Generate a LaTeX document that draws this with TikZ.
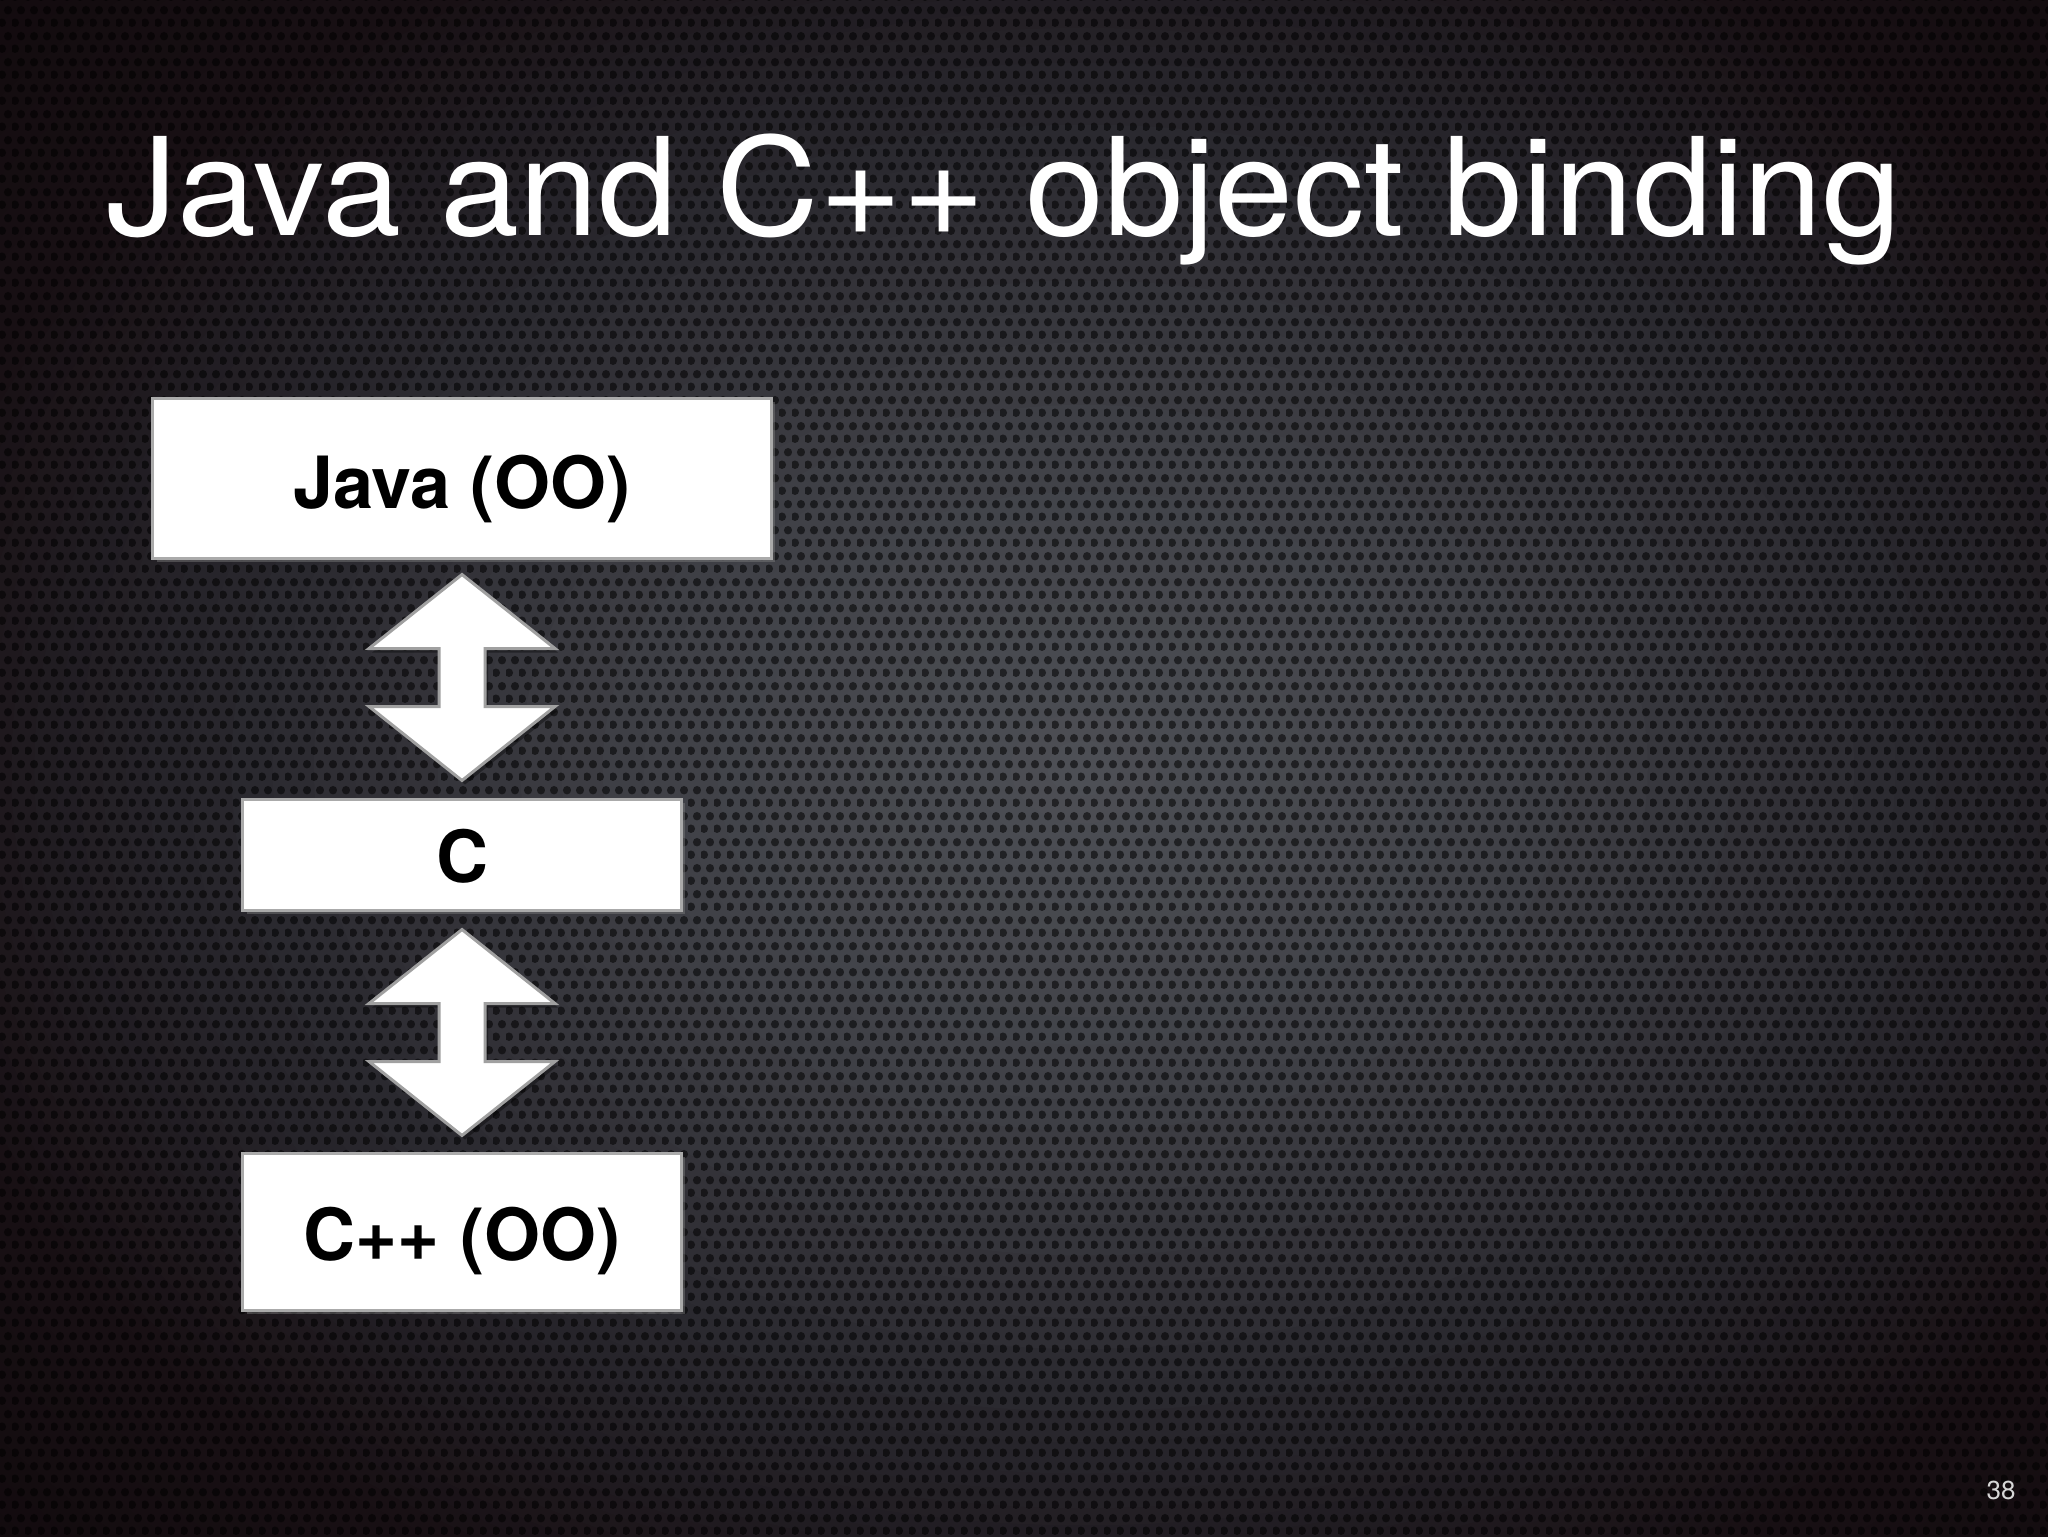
\documentclass[tikz,border=0pt]{standalone}
\usepackage{fontspec}
\setmainfont{TeX Gyre Heros}
\newfontfamily\slidetitlefont[FakeStretch=1.045]{TeX Gyre Heros}
\usetikzlibrary{calc,shadows,patterns}
\definecolor{bgA}{RGB}{78,80,86}
\definecolor{bgB}{RGB}{64,65,71}
\definecolor{bgC}{RGB}{38,36,42}
\definecolor{bgD}{RGB}{24,16,20}
\definecolor{bgE}{RGB}{16,9,12}
\definecolor{boxline}{RGB}{170,170,170}
\definecolor{arrowline}{RGB}{160,160,160}
\definecolor{pagenum}{RGB}{215,215,215}
\pgfdeclarepatternformonly{holes}{\pgfpoint{0bp}{0bp}}{\pgfpoint{6.5bp}{13bp}}{\pgfpoint{6.5bp}{13bp}}{%
  \pgfpathcircle{\pgfpoint{1.6bp}{3.25bp}}{2.2bp}%
  \pgfpathcircle{\pgfpoint{4.85bp}{9.75bp}}{2.2bp}%
  \pgfusepath{fill}}
\tikzset{
  box/.style={draw=boxline, line width=1.5bp, fill=white, inner sep=0pt,
    drop shadow={shadow xshift=2bp, shadow yshift=-2bp, opacity=.45}},
  boxtext/.style={font=\bfseries\fontsize{36bp}{40bp}\selectfont, text=black, inner sep=0pt, anchor=base},
  blockarrow/.style={draw=arrowline, line width=1.5bp, fill=white, line join=miter},
  titletext/.style={font=\slidetitlefont\fontsize{68bp}{76bp}\selectfont, text=white, inner sep=0pt, anchor=base west},
}
\newcommand\dblblock[2]{%
  \draw[blockarrow] (#1) -- ($(#1)+(93,74)$) -- ($(#1)+(23,74)$) -- ($(#2)+(23,-74)$)
    -- ($(#2)+(93,-74)$) -- (#2) -- ($(#2)+(-93,-74)$) -- ($(#2)+(-23,-74)$)
    -- ($(#1)+(-23,74)$) -- ($(#1)+(-93,74)$) -- cycle;}
\newcommand\dblblockshadow[2]{%
  \fill[black, opacity=.35] (#1) -- ($(#1)+(93,74)$) -- ($(#1)+(23,74)$) -- ($(#2)+(23,-74)$)
    -- ($(#2)+(93,-74)$) -- (#2) -- ($(#2)+(-93,-74)$) -- ($(#2)+(-23,-74)$)
    -- ($(#1)+(-23,74)$) -- ($(#1)+(-93,74)$) -- cycle;}
\begin{document}
\begin{tikzpicture}[x=0.5bp,y=-0.5bp]
  \useasboundingbox (0,0) rectangle (2048,1536);
  \begin{scope}
    \clip (0,0) rectangle (2048,1536);
    \fill[bgE] (0,0) rectangle (2048,1536);
    \foreach \ra/\rb/\ca/\cb in {1.45/1.1/bgE/bgD, 1.1/0.85/bgD/bgC, 0.85/0.4/bgC/bgB, 0.4/0/bgB/bgA} {
      \foreach \k in {0,...,11} {
        \pgfmathsetmacro\rr{\ra-(\ra-\rb)*\k/12}
        \pgfmathsetmacro\pp{100*\k/12}
        \fill[color=\cb!\pp!\ca] (1084,768) ellipse [x radius=\rr*1100, y radius=\rr*830];
      }
    }
  \end{scope}
  \fill[pattern=holes, pattern color=black, opacity=.55] (0,0) rectangle (2048,1536);

  % title
  \node[titletext] (title) at (106,235) {Java and C++ object binding};

  % boxes
  \node[box, minimum width=309bp, minimum height=80bp] (java) at (462,478) {};
  \node[box, minimum width=219bp, minimum height=55.5bp] (c) at (462,854.5) {};
  \node[box, minimum width=219bp, minimum height=78.5bp] (cpp) at (462,1231.5) {};

  \node[boxtext] (javalbl) at ($(java)+(0,30)$) {Java (OO)};
  \node[boxtext] (clbl) at ($(c)+(0,27.5)$) {C};
  \node[boxtext] (cpplbl) at ($(cpp)+(0,28.5)$) {C++ (OO)};

  % double block arrows
  \coordinate (a1) at ($(java.south)+(0,15)$);
  \coordinate (b1) at ($(c.north)+(0,-17)$);
  \coordinate (a2) at ($(c.south)+(0,18)$);
  \coordinate (b2) at ($(cpp.north)+(0,-16)$);
  \begin{scope}[transform canvas={shift={(1.5bp,-2bp)}}]
    \dblblockshadow{a1}{b1}
    \dblblockshadow{a2}{b2}
  \end{scope}
  \dblblock{a1}{b1}
  \dblblock{a2}{b2}

  % page number
  \node[font=\fontsize{13bp}{15bp}\selectfont, text=pagenum, inner sep=0pt, anchor=base east] (pnum) at (2016,1499) {38};
\end{tikzpicture}
\end{document}
